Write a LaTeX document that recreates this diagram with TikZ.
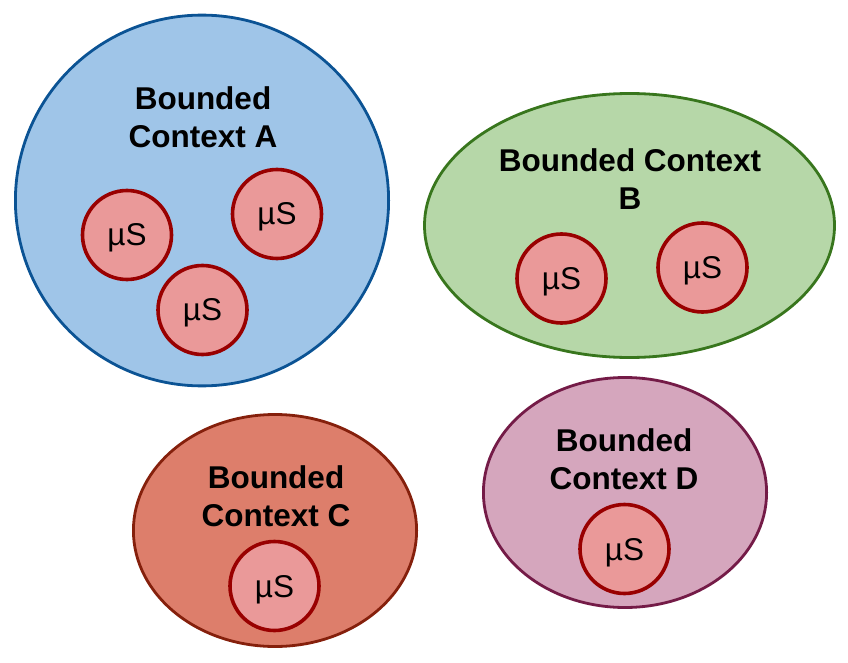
\documentclass[tikz,border=0pt]{standalone}
\usepackage{fontspec}
\setmainfont{Liberation Sans}
\definecolor{ctxAfill}{HTML}{9FC5E8}
\definecolor{ctxAline}{HTML}{0B5394}
\definecolor{ctxBfill}{HTML}{B6D7A8}
\definecolor{ctxBline}{HTML}{38761D}
\definecolor{ctxCfill}{HTML}{DD7E6B}
\definecolor{ctxCline}{HTML}{85200C}
\definecolor{ctxDfill}{HTML}{D5A6BD}
\definecolor{ctxDline}{HTML}{741B47}
\definecolor{msfill}{HTML}{EA9999}
\definecolor{msline}{HTML}{990000}
\tikzset{
  ctxlabel/.style={align=center,font=\bfseries\fontsize{31.5}{38}\selectfont},
  micro/.style={circle,draw=msline,fill=msfill,line width=3.6pt,minimum size=89pt,inner sep=0pt,
    text depth=0pt,font=\fontsize{31.5}{38}\selectfont}
}
\begin{document}
\begin{tikzpicture}[x=1pt,y=-1pt]
        \useasboundingbox (0, 0) rectangle (848, 663);
        \draw[line width=2.8pt,draw=ctxAline,fill=ctxAfill] (202, 200.5) ellipse (186.6 and 185.4);
        \draw[line width=2.8pt,draw=ctxBline,fill=ctxBfill] (629.5, 225.5) ellipse (205 and 132);
        \draw[line width=2.8pt,draw=ctxCline,fill=ctxCfill] (275, 530.5) ellipse (141.6 and 116);
        \draw[line width=2.8pt,draw=ctxDline,fill=ctxDfill] (625, 492.5) ellipse (141.6 and 115);
            \node[ctxlabel] (labelA) at (203, 117) {Bounded\\Context A};
            \node[ctxlabel] (labelB) at (630, 179) {Bounded Context\\B};
            \node[ctxlabel] (labelC) at (276, 496) {Bounded\\Context C};
            \node[ctxlabel] (labelD) at (624, 459) {Bounded\\Context D};
            \node[micro] (msA1) at (127, 235) {µS};
            \node[micro] (msA2) at (277, 214) {µS};
            \node[micro] (msA3) at (202.5, 310) {µS};
            \node[micro] (msB1) at (561.5, 278.5) {µS};
            \node[micro] (msB2) at (702.5, 267.5) {µS};
            \node[micro] (msC1) at (274.5, 586) {µS};
            \node[micro] (msD1) at (624.5, 549) {µS};
        \end{tikzpicture}
\end{document}
